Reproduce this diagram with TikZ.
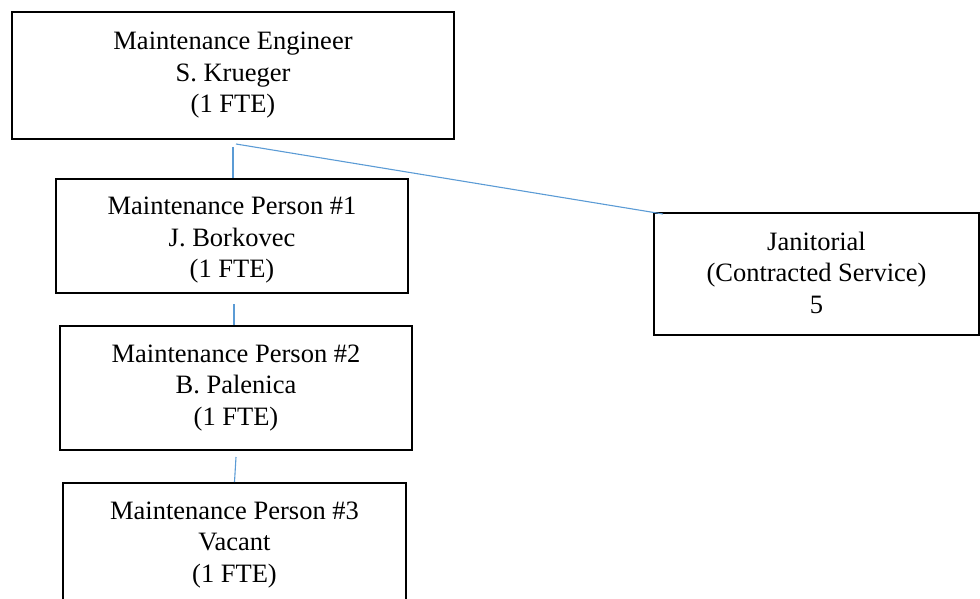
\documentclass[tikz,border=0pt]{standalone}
\usepackage{fontspec}
\setmainfont{Liberation Serif}
\definecolor{connblue}{RGB}{91,155,213}
\begin{document}
\begin{tikzpicture}[x=1pt,y=-1pt,
  box/.style={draw=black, line width=1.8pt, rectangle, inner sep=0pt, align=center,
    font=\fontsize{26.5}{31.5}\selectfont},
  label text/.style={font=\fontsize{26.5}{31.5}\selectfont, align=center, inner sep=0pt},
  conn/.style={draw=connblue, line width=1.1pt}]
\useasboundingbox (0,0) rectangle (980,599);
\clip (0,0) rectangle (980,599);
\node[box, minimum width=442pt, minimum height=127pt] (b1) at (233,75.5)
  {Maintenance Engineer\\S. Krueger\\(1 FTE)};
\node[box, minimum width=352pt, minimum height=114pt] (b2) at (232,236) {};
\node[label text] (b2t) at (232,240.5)
  {Maintenance Person \#1\\J. Borkovec\\(1 FTE)};
\node[box, minimum width=352pt, minimum height=124pt] (b3) at (236,388)
  {Maintenance Person \#2\\B. Palenica\\(1 FTE)};
\node[box, minimum width=343pt, minimum height=160pt] (b4) at (234.5,563) {};
\node[label text] (b4t) at (234.5,545)
  {Maintenance Person \#3\\Vacant\\(1 FTE)};
\node[box, minimum width=325pt, minimum height=122pt] (jan) at (816.5,274) {};
\node[label text] (jant) at (816.5,272.5)
  {Janitorial\\(Contracted Service)\\5};
\coordinate (c1a) at (233,147);
\coordinate (c1b) at (233,178);
\coordinate (c2a) at (236,144);
\coordinate (c2b) at (663,214);
\coordinate (c3a) at (234,304);
\coordinate (c3b) at (234,325);
\coordinate (c4a) at (236,457);
\coordinate (c4b) at (234.5,482);
\draw[conn] (c1a) -- (c1b);
\draw[conn] (c2a) -- (c2b);
\draw[conn] (c3a) -- (c3b);
\draw[conn] (c4a) -- (c4b);
\end{tikzpicture}
\end{document}
